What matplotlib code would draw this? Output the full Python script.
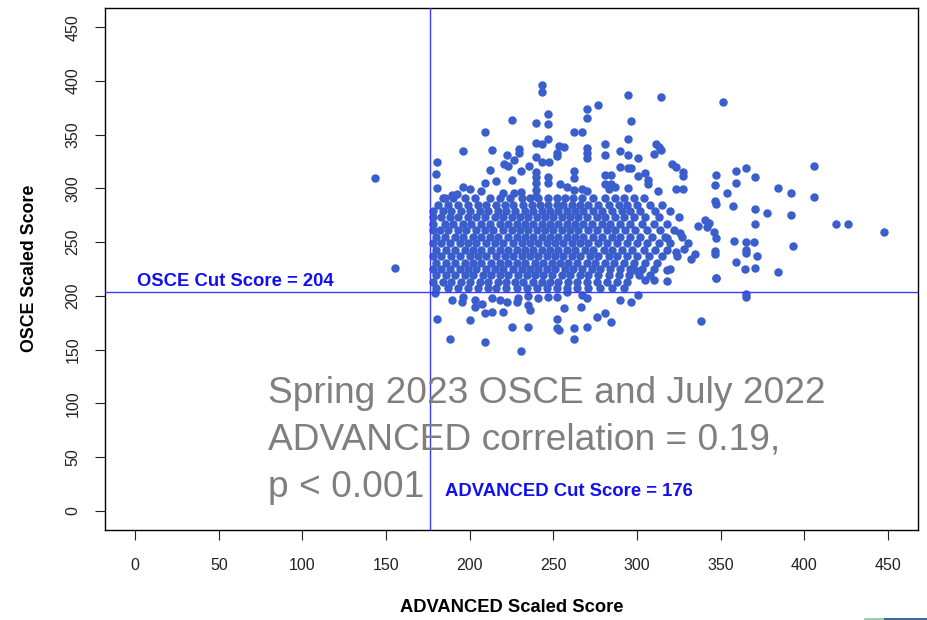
import matplotlib
matplotlib.use("Agg")
import matplotlib.pyplot as plt
from matplotlib.lines import Line2D
import numpy as np

plt.rcParams['font.family'] = ['Liberation Sans', 'DejaVu Sans']

# ---- data ----
advanced_cut = 176
osce_cut = 204
xticks = [0, 50, 100, 150, 200, 250, 300, 350, 400, 450]
yticks = [0, 50, 100, 150, 200, 250, 300, 350, 400, 450]
note_lines = ['Spring 2023 OSCE and July 2022', 'ADVANCED correlation = 0.19,', 'p < 0.001']

# dense core, one list of ADVANCED scores per OSCE score row
core_rows_y = [291, 285, 279, 273, 267, 261, 255, 249, 243, 237, 231, 225, 219, 213, 207]
core_rows_x = [
    [184, 190, 197, 203, 212, 218, 224, 231, 236, 241, 247, 252, 257, 262, 267, 274, 281, 287, 292, 298, 304],
    [181, 187, 193, 199, 205, 210, 216, 221, 226, 232, 237, 242, 247, 252, 256, 261, 266, 271, 277, 283, 289, 294, 300, 308, 315],
    [178, 184, 189, 195, 200, 206, 211, 217, 222, 227, 233, 238, 243, 248, 253, 258, 263, 268, 274, 279, 285, 291, 296, 302, 311, 320],
    [178, 183, 188, 193, 199, 204, 209, 215, 220, 225, 230, 235, 240, 245, 250, 255, 260, 265, 270, 276, 281, 287, 292, 298, 305, 313, 325],
    [178, 185, 190, 196, 201, 207, 212, 218, 223, 228, 233, 238, 243, 248, 253, 258, 263, 268, 273, 279, 284, 290, 296, 303, 310, 318],
    [178, 182, 187, 193, 198, 204, 209, 214, 220, 225, 230, 235, 240, 245, 250, 255, 260, 265, 271, 276, 282, 287, 293, 299, 306, 314, 322],
    [180, 185, 191, 196, 202, 207, 212, 217, 223, 228, 233, 238, 243, 248, 253, 258, 263, 268, 274, 279, 285, 290, 296, 302, 309, 317, 327],
    [178, 183, 188, 194, 199, 204, 210, 215, 220, 226, 231, 236, 241, 246, 251, 256, 261, 266, 271, 277, 282, 288, 294, 300, 306, 313, 320],
    [180, 186, 191, 197, 202, 207, 213, 218, 223, 228, 233, 238, 243, 248, 253, 258, 263, 269, 274, 280, 285, 291, 297, 304, 311, 318],
    [178, 183, 189, 194, 200, 205, 210, 216, 221, 226, 231, 236, 241, 246, 251, 256, 261, 266, 272, 277, 283, 288, 294, 300, 307, 315, 324],
    [180, 186, 191, 197, 202, 207, 213, 218, 223, 228, 233, 239, 244, 249, 254, 259, 264, 270, 275, 281, 286, 292, 298, 305, 312],
    [178, 183, 188, 194, 199, 204, 210, 215, 220, 226, 231, 236, 241, 246, 251, 257, 262, 267, 273, 278, 284, 290, 296, 303, 310, 320],
    [180, 186, 191, 197, 202, 208, 213, 218, 223, 229, 234, 239, 244, 249, 255, 260, 266, 271, 277, 283, 289, 295, 301, 308],
    [178, 184, 189, 195, 200, 206, 211, 217, 222, 227, 232, 238, 243, 248, 253, 259, 264, 270, 276, 282, 288, 294],
    [180, 187, 193, 199, 205, 211, 216, 222, 228, 234, 240, 246, 252, 258, 264, 271, 278, 285, 292],
]

# scattered candidates outside the core
sparse_x = [143.7, 155.6,
            243.2, 243.2, 225.3, 239.6, 247, 247, 209.3, 247, 239.6, 243.2, 252.2, 196.1, 213.4, 222.3,
            229.4, 229.4, 226.6, 220.5, 222.9, 239.6, 243.2, 247.6, 180.4, 179.8, 180.4, 212.3, 230.8,
            235.6, 239.6, 215.9, 225.3, 209.3, 196.1, 200.3, 206.7, 220, 226.6, 230.8, 185.3, 189.3, 192.3,
            239.6, 239.6, 239.6, 239.6, 247, 247,
            294.6, 314.6, 351.7, 276.6, 270.3, 270.3, 296.4, 262.4, 267, 294.6, 280.8, 280.8, 270.3, 270.3,
            270.3, 253.4, 256.2, 252, 290.1, 294.6, 300.6, 311.2, 313, 314.6, 310.4, 290.1, 294.6, 296.6,
            262.4, 262.4, 280.8, 284.7, 300.6, 305, 306.8, 306.8, 321.2, 323.6, 327.8, 327.8, 347.5,
            359.5, 365.4, 370.8, 294.6, 312.6, 323.3, 327.8, 253.9, 258.1, 262.4, 267, 270.3, 280.8,
            284.7, 283.5, 287,
            346.9, 359.3, 353.9, 346.9, 347.3, 357.7, 370.3, 377.5, 370.3, 336.6, 340.9, 342.9, 341.9,
            345.9, 347.3, 357.9, 364.9, 369.8, 364.9, 364.9, 371.9, 346.9, 346.9, 359.3, 364.5, 370.3,
            347.3, 334.9, 332.4, 326, 330.3, 328, 323.6, 318,
            405.7, 405.7, 418.8, 426, 447.6, 384.6, 384.6, 391.8, 391.8, 393,
            305, 310, 318, 299, 318,
            179.4, 189.3, 196.1, 195.3, 203.3, 203.3, 207.3, 209.3, 213.3, 213.3, 218.2, 222.3, 220.2,
            229, 228.2, 235, 235, 236.2, 241, 247, 180.4, 200.3, 225.3, 235, 188.3, 209.3, 230.6, 252.2,
            252.2, 252.2, 258.2, 267.1, 270.1, 256.1, 266.7, 276.1, 280.7, 284.7, 290.1, 296.6, 300.7,
            253.6, 262.5, 262.5, 270.1, 338.4, 365.4, 365.4, 347]
sparse_y = [310, 225.8,
            395.9, 389.7, 364, 361.2, 369, 359.7, 352.5, 346, 342, 341, 332.7, 334.6, 335.5, 330.9,
            336.4, 333, 326.2, 322.5, 320.9, 329, 324.4, 324.6, 324.6, 313.2, 300.2, 316.9, 316.3,
            320.6, 315.3, 306.7, 307.6, 305.1, 301.1, 299.3, 297.7, 295.5, 295.5, 296.7, 291.2, 294.3, 294.6,
            311, 305, 299, 293, 310.4, 304.8,
            386.9, 384.8, 380.1, 377.3, 373.9, 365.5, 363, 352.2, 352.2, 346, 341.4, 331.3, 337.4, 332.7,
            328.1, 339.9, 338.3, 329.9, 334.6, 331.3, 328.4, 341.1, 338.3, 335.9, 331.8, 319.7, 318.8, 319.1,
            316, 309.8, 312.6, 312.6, 311.7, 314.1, 307.6, 304.2, 322.5, 319.7, 315.1, 311.3, 312.6,
            316, 319, 310.4, 300.2, 297.4, 299.5, 299.5, 304.2, 301.1, 298.6, 299.5, 297.4, 304.2,
            304.2, 299.5, 301.1,
            303, 305.1, 296.2, 288.4, 285.3, 284.1, 280.7, 277.6, 267, 264.9, 270.4, 267.9, 264.2,
            259.6, 253.4, 250.9, 249.7, 250.3, 242.6, 240, 237, 241.9, 238.8, 231.1, 224.9, 225.6,
            216.8, 238.8, 234.2, 258.6, 248.8, 243.2, 241, 253.4,
            320.6, 291.8, 266.7, 266.7, 259.3, 222.1, 300.2, 295.5, 275, 246.3,
            214.7, 214.7, 213.8, 224, 224,
            202.3, 196.1, 199.2, 194.5, 196.1, 189.9, 192.1, 184.3, 185.2, 198, 196.1, 194, 185.2,
            198, 194.5, 200.1, 191.4, 186.8, 198, 199.2, 178.2, 177.5, 170.7, 171.3, 159.9, 157.3, 148.7, 178.4,
            170.1, 199.2, 203.8, 200.7, 197.7, 188.9, 189.9, 180.6, 184.3, 175.9, 196.1, 194, 200.7,
            168.2, 169.8, 159.9, 170.7, 176.6, 201.7, 198.9, 216.5]

# ---- assemble ----
xs = list(sparse_x)
ys = list(sparse_y)
for yv, row in zip(core_rows_y, core_rows_x):
    xs.extend(row)
    ys.extend([yv] * len(row))

W, H = 927, 620
fig = plt.figure(figsize=(W / 100, H / 100), dpi=100)
ax = fig.add_axes([105 / W, 90 / H, 813 / W, 522 / H])

ax.scatter(xs, ys, s=37, color='#3a5fcd', linewidths=0, zorder=2)
ax.axvline(advanced_cut, color='#3b3bff', lw=1.0, zorder=3)
ax.axhline(osce_cut, color='#3b3bff', lw=1.0, zorder=3)

ax.set_xlim(-18, 468)
ax.set_ylim(-18, 468)
ax.set_xticks(xticks)
ax.set_yticks(yticks)
ax.set_xticklabels([str(t) for t in xticks], fontsize=11.5)
ax.set_yticklabels([str(t) for t in yticks], fontsize=11.5, rotation=90, va='center')
ax.tick_params(axis='x', length=7.5, width=0.8, pad=13, colors='#222222')
ax.tick_params(axis='y', length=7.5, width=0.8, pad=10, colors='#222222')
for sp in ax.spines.values():
    sp.set_color('black')
    sp.set_linewidth(1.0)

ax.text(1, 213, 'OSCE Cut Score = ' + str(osce_cut), color='#1010ee', fontsize=13.3,
        fontweight='bold', ha='left', va='center', zorder=4)
ax.text(185.3, 17.7, 'ADVANCED Cut Score = ' + str(advanced_cut), color='#1010ee', fontsize=13.3,
        fontweight='bold', ha='left', va='center', zorder=4)
for line, yb in zip(note_lines, [100.4, 56.7, 13.0]):
    ax.text(79.3, yb, line, color='#7f7f7f', fontsize=26.7, ha='left', va='baseline', zorder=4)

fig.text(512 / W, 1 - 608 / H, 'ADVANCED Scaled Score', fontsize=13.2, fontweight='bold',
         ha='center', va='center')
fig.text(30 / W, 1 - 268 / H, 'OSCE Scaled Score', fontsize=12.8, fontweight='bold',
         ha='center', va='center', rotation=90)

# thin coloured strip at the bottom-right edge of the reference image
fig.add_artist(Line2D([865 / W, 885 / W], [0.6 / H, 0.6 / H], color='#7fc8a9', lw=1.2))
fig.add_artist(Line2D([885 / W, 1.0], [0.6 / H, 0.6 / H], color='#1f4e8c', lw=1.2))

fig.savefig('out.png', dpi=100)
